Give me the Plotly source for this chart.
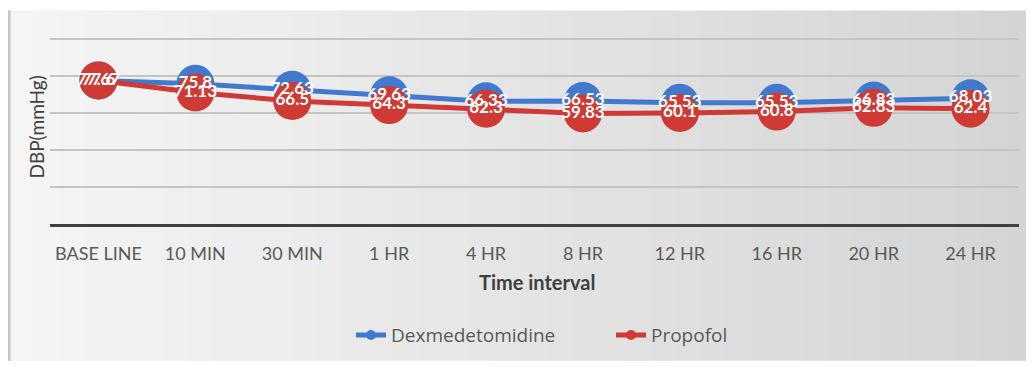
import plotly.graph_objects as go

categories = ["BASE LINE", "10 MIN", "30 MIN", "1 HR", "4 HR", "8 HR", "12 HR", "16 HR", "20 HR", "24 HR"]
dex = [77.6, 75.8, 72.63, 69.63, 66.33, 66.53, 65.53, 65.53, 66.83, 68.03]
prop = [77.67, 71.13, 66.5, 64.3, 62.3, 59.83, 60.1, 60.8, 62.83, 62.4]

BLUE = "#4179cf"
RED = "#cf3a34"
FONT = "Lato, 'Open Sans', sans-serif"

# plot area in page pixels (the div sits 8 px in from the page corner)
OFF = 8
PL, PR, PT, PB = 50, 1019, 38, 227
W, H = 1034 - OFF, 366 - OFF

def fx(px):
    return (px - PL) / (PR - PL)

def fy(py):
    return (PB - py) / (PB - PT)

fig = go.Figure()

series = [("Dexmedetomidine", dex, BLUE), ("Propofol", prop, RED)]
for name, vals, col in series:
    fig.add_trace(go.Scatter(
        x=categories, y=vals, name=name, mode="lines+markers",
        line=dict(color=col, width=5),
        marker=dict(size=38, color=col),
        showlegend=False, cliponaxis=False,
    ))
for name, vals, col in series:
    fig.add_trace(go.Scatter(
        x=categories, y=vals, name=name, mode="text",
        text=[f"{v:g}" for v in vals], textposition="middle center",
        textfont=dict(color="white", size=17, family=FONT, weight="bold"),
        showlegend=False, cliponaxis=False, hoverinfo="skip",
    ))
for name, vals, col in series:
    fig.add_trace(go.Scatter(
        x=[None], y=[None], name=name, mode="lines+markers",
        line=dict(color=col, width=5), marker=dict(size=10, color=col),
    ))

# background gradient strips (decoration)
shapes = []
n = 40
left, right = 8, 1034
for i in range(n):
    t = i / (n - 1)
    c = int(round(245 - t * (245 - 212)))
    x0 = left + i * (right - left) / n
    x1 = left + (i + 1) * (right - left) / n + 1
    shapes.append(dict(type="rect", xref="paper", yref="paper", layer="below",
                       x0=fx(x0), x1=fx(x1), y0=fy(366), y1=fy(10),
                       fillcolor=f"rgb({c},{c},{c})", line=dict(width=0)))
shapes.append(dict(type="line", xref="paper", yref="paper", layer="below",
                   x0=fx(9), x1=fx(9), y0=fy(366), y1=fy(10),
                   line=dict(color="#c4c4c4", width=3)))

fig.update_layout(
    width=W, height=H,
    margin=dict(l=PL - OFF, r=W - (PR - OFF), t=PT - OFF, b=H - (PB - OFF)),
    paper_bgcolor="white", plot_bgcolor="rgba(0,0,0,0)",
    shapes=shapes,
    font=dict(family=FONT, color="#595959"),
    xaxis=dict(type="category", showgrid=False, showline=True, linecolor="#404040", linewidth=3,
               tickfont=dict(size=18, color="#595959", family=FONT), ticks="", ticklabelstandoff=11,
               range=[-0.5, 9.5], zeroline=False),
    yaxis=dict(range=[0, 100.6], tickvals=[20, 40, 60, 80, 100], showgrid=True,
               gridcolor="#c4c4c4", gridwidth=1.5,
               showticklabels=False, zeroline=False, showline=False, ticks=""),
    legend=dict(orientation="h", x=fx(351), xanchor="left", y=fy(340), yanchor="middle",
                entrywidth=215, entrywidthmode="pixels",
                font=dict(size=19, color="#595959", family="'Open Sans', sans-serif"),
                bgcolor="rgba(0,0,0,0)", traceorder="normal"),
    annotations=[
        dict(text="<b>Time interval</b>", xref="paper", yref="paper", x=fx(537),
             y=fy(286), showarrow=False, font=dict(size=20, color="#404040", family=FONT),
             xanchor="center", yanchor="middle"),
        dict(text="DBP(mmHg)", xref="paper", yref="paper", x=fx(37), y=fy(129),
             showarrow=False, textangle=-90, font=dict(size=19, color="#404040", family=FONT),
             xanchor="center", yanchor="middle"),
    ],
)

fig.write_html("out.html")
